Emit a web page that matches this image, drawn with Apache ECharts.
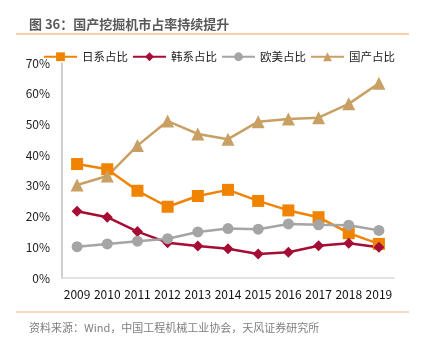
<!DOCTYPE html>
<html><head><meta charset="utf-8">
<script src="https://cdn.jsdelivr.net/npm/echarts@6/dist/echarts.min.js"></script>
<style>html,body{margin:0;padding:0;background:#fff}#c{width:422px;height:340px}</style>
</head><body><div id="c"></div>
<script>
const years = ['2009','2010','2011','2012','2013','2014','2015','2016','2017','2018','2019'];
const japan = [37.1,35.4,28.4,23.2,26.7,28.7,25.1,22.0,19.8,14.6,11.1];
const korea = [21.7,19.8,15.1,11.5,10.4,9.5,7.8,8.4,10.5,11.3,10.0];
const euroUS = [10.2,11.1,12.0,12.8,15.0,16.1,15.9,17.6,17.3,17.2,15.5];
const china = [30.3,33.2,43.1,51.1,46.9,45.2,50.9,51.8,52.2,56.7,63.4];
const names = ['日系占比','韩系占比','欧美占比','国产占比'];
const font = '"Noto Sans CJK SC", "Noto Sans", sans-serif';
const chart = echarts.init(document.getElementById('c'));
function s(name, data, color, symbol, size){
  return {name, type:'line', data, symbol, symbolSize:size, showSymbol:true,
    lineStyle:{color, width:2.5}, itemStyle:{color}};
}
chart.setOption({
  animation:false,
  textStyle:{fontFamily:font},
  title:[
    {text:'图 36：国产挖掘机市占率持续提升', left:24, top:13, textStyle:{fontSize:13, fontWeight:'bold', color:'#595959', fontFamily:font}},
    {text:'资料来源：Wind，中国工程机械工业协会，天风证券研究所', left:24, top:317, textStyle:{fontSize:11, fontWeight:'normal', color:'#7f7f7f', fontFamily:font}}
  ],
  graphic:[
    {type:'line', shape:{x1:16,y1:34,x2:409,y2:34}, style:{stroke:'#f4a34a', lineWidth:1}},
    {type:'line', shape:{x1:16,y1:312,x2:409,y2:312}, style:{stroke:'#f4b77a', lineWidth:1}}
  ],
  legend:{top:46, left:38, itemWidth:33, itemHeight:11, itemGap:4,
    textStyle:{fontSize:11.5, color:'#222', fontFamily:font}, data:names},
  grid:{left:62, right:28, top:63, bottom:62},
  xAxis:{type:'category', data:years, boundaryGap:true,
    axisLine:{lineStyle:{color:'#d9d9d9', width:1.5}}, axisTick:{show:false},
    axisLabel:{fontSize:12, color:'#111', margin:10, interval:0, fontFamily:font}},
  yAxis:{type:'value', min:0, max:70, interval:10,
    axisLine:{show:true, lineStyle:{color:'#bfbfbf', width:1.5}},
    axisTick:{show:false}, splitLine:{show:false},
    axisLabel:{fontSize:12, color:'#222', margin:12, formatter:'{value}%', fontFamily:font}},
  series:[
    s(names[0], japan, '#f08300', 'rect', 12),
    s(names[1], korea, '#a50d34', 'diamond', 11),
    s(names[2], euroUS, '#a5a5a5', 'circle', 11),
    s(names[3], china, '#c9a063', 'triangle', 13)
  ]
});
</script></body></html>
